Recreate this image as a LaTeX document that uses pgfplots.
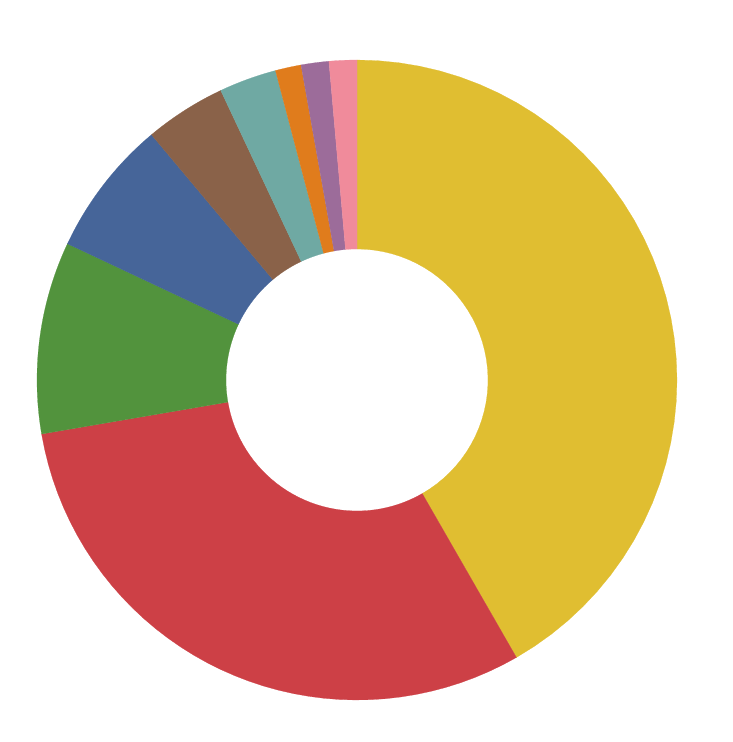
\documentclass[border=0pt]{standalone}
\usepackage{pgfplots}
\pgfplotsset{compat=1.18}
\definecolor{cYellow}{HTML}{E0BE31}
\definecolor{cRed}{HTML}{CD4046}
\definecolor{cGreen}{HTML}{52933D}
\definecolor{cBlue}{HTML}{466599}
\definecolor{cBrown}{HTML}{8A6249}
\definecolor{cTeal}{HTML}{6FA9A3}
\definecolor{cOrange}{HTML}{E07C1C}
\definecolor{cPurple}{HTML}{9C6C9A}
\definecolor{cPink}{HTML}{F08B9B}
% slice shares in percent (clockwise from 12 o'clock)
\def\vA{41.7}\def\vB{30.6}\def\vC{9.7}\def\vD{6.9}\def\vE{4.1}
\def\vF{2.9}\def\vG{1.3}\def\vH{1.4}\def\vI{1.4}
\pgfmathsetmacro\cA{0}
\pgfmathsetmacro\cB{\cA+3.6*\vA}
\pgfmathsetmacro\cC{\cB+3.6*\vB}
\pgfmathsetmacro\cD{\cC+3.6*\vC}
\pgfmathsetmacro\cE{\cD+3.6*\vD}
\pgfmathsetmacro\cF{\cE+3.6*\vE}
\pgfmathsetmacro\cG{\cF+3.6*\vF}
\pgfmathsetmacro\cH{\cG+3.6*\vG}
\pgfmathsetmacro\cI{\cH+3.6*\vH}
\pgfmathsetmacro\cJ{360}
\def\Ro{320}\def\Ri{131}
% #1 start (clockwise deg from top), #2 end, #3 colour
\newcommand{\slice}[3]{%
  \addplot[fill=#3, draw=#3, line width=0.2pt, samples at={0,...,80}]
  ({ (x<=40 ? \Ro : \Ri) * cos( 90 - (x<=40 ? #1+(#2-#1)*x/40 : #2-(#2-#1)*(x-41)/39) ) },
   { (x<=40 ? \Ro : \Ri) * sin( 90 - (x<=40 ? #1+(#2-#1)*x/40 : #2-(#2-#1)*(x-41)/39) ) }) -- cycle;
}
\begin{document}
\begin{tikzpicture}
\begin{axis}[
  width=732pt, height=742pt, scale only axis,
  xmin=-357, xmax=375, ymin=-362, ymax=380,
  hide axis, clip=false]
\path (axis cs:-357,-362) rectangle (axis cs:375,380);
\slice{\cA}{\cB}{cYellow}
\slice{\cB}{\cC}{cRed}
\slice{\cC}{\cD}{cGreen}
\slice{\cD}{\cE}{cBlue}
\slice{\cE}{\cF}{cBrown}
\slice{\cF}{\cG}{cTeal}
\slice{\cG}{\cH}{cOrange}
\slice{\cH}{\cI}{cPurple}
\slice{\cI}{\cJ}{cPink}
\end{axis}
\end{tikzpicture}
\end{document}
